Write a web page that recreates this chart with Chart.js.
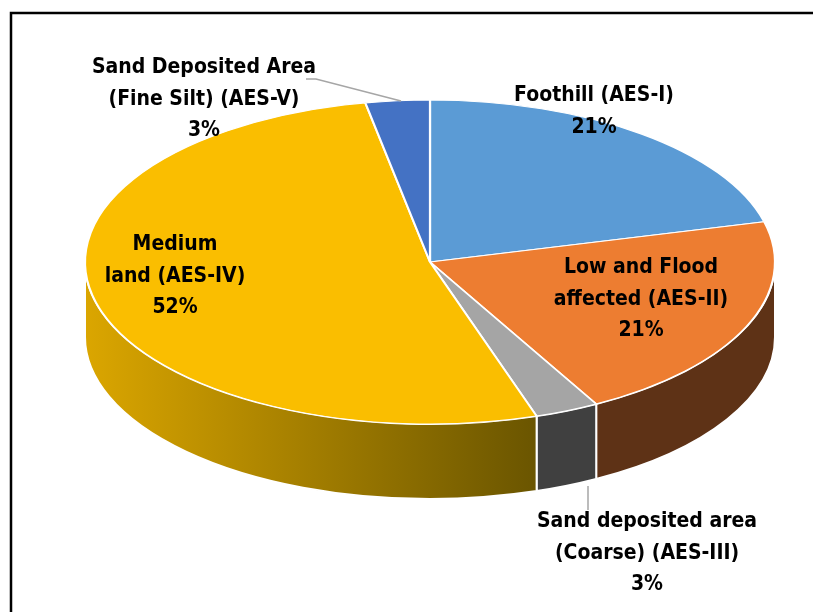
<!DOCTYPE html>
<html>
<head>
<meta charset="utf-8">
<script src="https://cdn.jsdelivr.net/npm/chart.js@4"></script>
<style>
  body { margin: 0; background: #fff; }
  canvas { display: block; }
</style>
</head>
<body>
<canvas id="pie-3d" width="813" height="612"></canvas>
<script>
// data (percent of area)
const categories = ['Foothill (AES-I)', 'Low and Flood affected (AES-II)', 'Sand deposited area (Coarse) (AES-III)', 'Medium land (AES-IV)', 'Sand Deposited Area (Fine Silt) (AES-V)'];
const shares = [21, 21, 3, 52, 3];
// how each label is broken into lines
const labelLines = [
  ['Foothill (AES-I)'],
  ['Low and Flood', 'affected (AES-II)'],
  ['Sand deposited area', '(Coarse) (AES-III)'],
  ['Medium', 'land (AES-IV)'],
  ['Sand Deposited Area', '(Fine Silt) (AES-V)']
];

const topColors = ['#5b9bd5', '#ed7d31', '#a5a5a5', '#fabe00', '#4472c4'];
const sideColors = ['#2f5f8f', '#5e3216', '#404040', null, '#2a4a85'];
const labelPos = [[594, 96], [641, 268], [647, 522], [175, 245], [204, 68]];

// ellipse the flat pie gets squashed into
const CX = 430, CY = 262, RX = 345, RY = 162, DEPTH = 75;
const FONT = 'bold 21px "Liberation Sans Narrow", "DejaVu Sans Condensed", sans-serif';
const LINE_H = 31.5;

const pie3d = {
  id: 'pie3d',
  beforeDatasetsDraw(chart) {
    const ctx = chart.ctx;
    const arcs = chart.getDatasetMeta(0).data;
    // side walls, only the front half is visible
    arcs.forEach((arc, i) => {
      const a1 = Math.max(arc.startAngle, 0);
      const a2 = Math.min(arc.endAngle, Math.PI);
      if (a2 <= a1) return;
      ctx.save();
      ctx.beginPath();
      ctx.ellipse(CX, CY, RX, RY, 0, a1, a2);
      ctx.ellipse(CX, CY + DEPTH, RX, RY, 0, a2, a1, true);
      ctx.closePath();
      if (sideColors[i]) {
        ctx.fillStyle = sideColors[i];
      } else {
        const g = ctx.createLinearGradient(CX - RX, 0, CX + RX * Math.cos(a1), 0);
        g.addColorStop(0, '#dba600');
        g.addColorStop(1, '#6a5500');
        ctx.fillStyle = g;
      }
      ctx.fill();
      ctx.strokeStyle = '#ffffff';
      ctx.lineWidth = 2;
      ctx.stroke();
      ctx.restore();
    });
    // squash the library's round pie into the top ellipse
    const r = arcs[0].outerRadius;
    ctx.save();
    ctx.translate(CX, CY);
    ctx.scale(RX / r, RY / r);
    ctx.translate(-arcs[0].x, -arcs[0].y);
  },
  afterDatasetsDraw(chart) {
    const ctx = chart.ctx;
    ctx.restore();

    // leader lines
    ctx.save();
    ctx.strokeStyle = '#a6a6a6';
    ctx.lineWidth = 1.5;
    ctx.beginPath();
    ctx.moveTo(306, 79);
    ctx.lineTo(316, 79);
    ctx.lineTo(401, 101);
    ctx.moveTo(588, 486);
    ctx.lineTo(588, 510);
    ctx.stroke();

    ctx.font = FONT;
    ctx.fillStyle = '#000';
    ctx.textAlign = 'center';
    ctx.textBaseline = 'middle';
    labelLines.forEach((lines, i) => {
      const all = lines.concat([shares[i] + '%']);
      all.forEach((t, j) => ctx.fillText(t, labelPos[i][0], labelPos[i][1] + j * LINE_H));
    });

    // chart frame
    ctx.strokeStyle = '#000';
    ctx.lineWidth = 2.5;
    ctx.strokeRect(11, 13, 900, 700);
    ctx.restore();
  }
};

new Chart(document.getElementById('pie-3d'), {
  type: 'pie',
  data: {
    labels: categories,
    datasets: [{
      data: shares,
      backgroundColor: topColors,
      borderColor: '#ffffff',
      borderWidth: 1.6
    }]
  },
  options: {
    responsive: false,
    animation: false,
    layout: { padding: { left: 180, right: 133, top: 8, bottom: 104 } },
    plugins: {
      legend: { display: false },
      tooltip: { enabled: false }
    }
  },
  plugins: [pie3d]
});
</script>
</body>
</html>
